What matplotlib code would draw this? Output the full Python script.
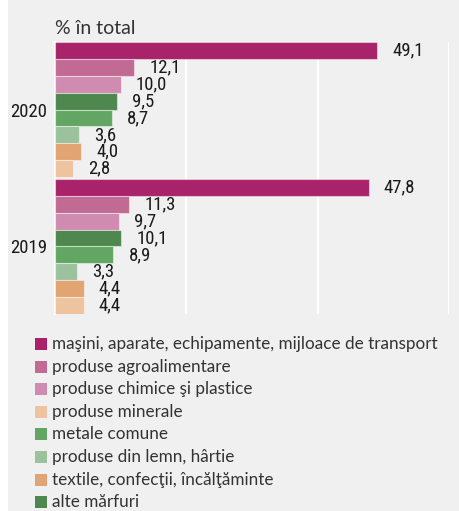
"""
Grouped horizontal bars: export structure by product group, 2020 vs 2019 (% in total).
"""
import numpy as np
import matplotlib.pyplot as plt
from matplotlib.patches import Rectangle

# ── DATA ────────────────────────────────────────────────────────────
YEARS = ["2020", "2019"]

# bar order inside each year group (top to bottom)
BAR_KEYS = ["masini", "agro", "chimice", "alte", "metale", "lemn", "textile", "minerale"]

VALUES_2020 = [49.1, 12.1, 10.0, 9.5, 8.7, 3.6, 4.0, 2.8]
VALUES_2019 = [47.8, 11.3, 9.7, 10.1, 8.9, 3.3, 4.4, 4.4]

LABELS = {
    "masini":   "maşini, aparate, echipamente, mijloace de transport",
    "agro":     "produse agroalimentare",
    "chimice":  "produse chimice şi plastice",
    "minerale": "produse minerale",
    "metale":   "metale comune",
    "lemn":     "produse din lemn, hârtie",
    "textile":  "textile, confecţii, încălţăminte",
    "alte":     "alte mărfuri",
}
LEGEND_ORDER = ["masini", "agro", "chimice", "minerale", "metale", "lemn", "textile", "alte"]

COLORS = {
    "masini":   "#a8236a",
    "agro":     "#c06a94",
    "chimice":  "#d08cb0",
    "alte":     "#4f884f",
    "metale":   "#63a663",
    "lemn":     "#9cc29d",
    "textile":  "#e2a472",
    "minerale": "#edc49f",
}
# ────────────────────────────────────────────────────────────────────

BG = "#f0f0f0"
NUM_FONT = ["Roboto Condensed", "DejaVu Sans Condensed", "Roboto", "DejaVu Sans"]
TXT_FONT = ["Lato", "DejaVu Sans"]
W, H = 460, 511

fig = plt.figure(figsize=(W / 100, H / 100), dpi=100)
fig.patch.set_facecolor("white")
# grey panel, white strip on the left
fig.patches.append(Rectangle((8 / W, 0), 1, 1, transform=fig.transFigure,
                             facecolor=BG, edgecolor="none", zorder=-10))

ax = fig.add_axes([55 / W, 1 - 314 / H, (449 - 55) / W, (314 - 42) / H])
ax.set_facecolor(BG)

gap = 0.1
n = len(BAR_KEYS)
group_vals = [VALUES_2020, VALUES_2019]
group_centers = []
for g, vals in enumerate(group_vals):
    start = g * (n + gap)
    pos = start + np.arange(n)
    group_centers.append(start + (n - 1) / 2)
    cols = [COLORS[k] for k in BAR_KEYS]
    ax.barh(pos, vals, height=1.0, color=cols, edgecolor=(1, 1, 1, 0.45),
            linewidth=0.8, zorder=3)
    for p, v in zip(pos, vals):
        ax.annotate(f"{v:.1f}".replace(".", ","), (v, p), xytext=(15, 0),
                    textcoords="offset pixels",
                    ha="left", va="center", fontsize=13.5, family=NUM_FONT,
                    color="#1a1a1a")

ax.set_xlim(0, 60)
ax.set_ylim(2 * n + gap - 0.5, -0.5)
ax.set_xticks([0, 20, 40, 60])
ax.xaxis.grid(True, color="white", linewidth=1.6, zorder=1)
ax.tick_params(axis="x", length=0, labelbottom=False)
ax.set_yticks(group_centers)
ax.set_yticklabels(YEARS, fontsize=13.5, family=NUM_FONT, color="#1a1a1a")
ax.tick_params(axis="y", length=0, pad=5.5)
for side in ["top", "right", "bottom"]:
    ax.spines[side].set_visible(False)
ax.spines["left"].set_color("white")
ax.spines["left"].set_linewidth(1.6)

fig.text(55 / W, 1 - 29 / H, "% în total", ha="left", va="center",
         fontsize=14, family=TXT_FONT, color="#333333")

# legend, drawn by hand in figure pixels
row0, step = 344, 22.6
for i, key in enumerate(LEGEND_ORDER):
    yc = row0 + i * step
    fig.patches.append(Rectangle((35 / W, 1 - (yc + 6) / H), 12 / W, 12 / H,
                                 transform=fig.transFigure,
                                 facecolor=COLORS[key], edgecolor="none"))
    fig.text(52 / W, 1 - yc / H, LABELS[key], ha="left", va="center",
             fontsize=12.3, family=TXT_FONT, color="#333333")

fig.savefig("out.png", dpi=100, facecolor=fig.get_facecolor())
